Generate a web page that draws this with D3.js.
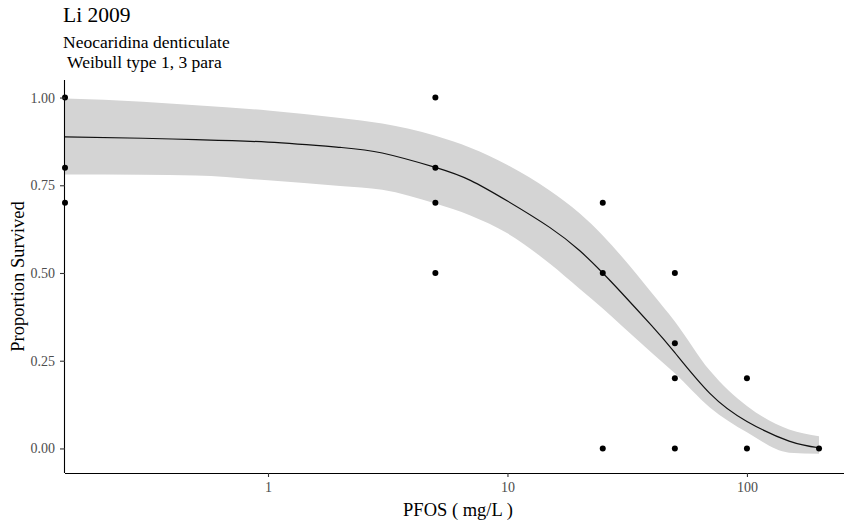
<!DOCTYPE html>
<html>
<head>
<meta charset="utf-8">
<script src="https://cdn.jsdelivr.net/npm/d3@7"></script>
<style>
  html, body { margin: 0; padding: 0; background: #fff; }
  svg { display: block; }
  text { font-family: "Liberation Serif", "Times New Roman", serif; }
</style>
</head>
<body>
<svg id="chart" width="844" height="527"></svg>
<script>
// ---- data ----
const titleText = "Li 2009";
const subtitleLines = ["Neocaridina denticulate", " Weibull type 1, 3 para"];
const xLabel = "PFOS ( mg/L )";
const yLabel = "Proportion Survived";

// observations (concentration 0 = control, drawn at the left panel edge)
const pointConc = [0, 0, 0, 5, 5, 5, 5, 25, 25, 25, 50, 50, 50, 50, 100, 100, 200];
const pointSurv = [1.0, 0.8, 0.7, 1.0, 0.8, 0.7, 0.5, 0.7, 0.5, 0.0, 0.5, 0.3, 0.2, 0.0, 0.2, 0.0, 0.0];

// fitted curve and confidence band
const curveConc = [0.142, 0.3, 0.5, 1, 2, 3, 5, 7, 10, 15, 20, 25, 30, 40, 50, 70, 100, 150, 200];
const curveFit  = [0.888, 0.884, 0.880, 0.873, 0.858, 0.842, 0.801, 0.764, 0.705, 0.630, 0.564, 0.500, 0.443, 0.350, 0.273, 0.157, 0.077, 0.021, 0.002];
const bandUpper = [0.997, 0.988, 0.978, 0.963, 0.942, 0.926, 0.891, 0.857, 0.808, 0.735, 0.670, 0.607, 0.547, 0.444, 0.362, 0.222, 0.121, 0.054, 0.035];
const bandLower = [0.781, 0.780, 0.778, 0.764, 0.748, 0.737, 0.698, 0.664, 0.613, 0.527, 0.455, 0.399, 0.350, 0.273, 0.214, 0.117, 0.046, -0.012, -0.015];

const xTicks = [1, 10, 100];
const xTickLabels = ["1", "10", "100"];
const yTicks = [0, 0.25, 0.5, 0.75, 1.0];
const yTickLabels = ["0.00", "0.25", "0.50", "0.75", "1.00"];

const xDomain = [0.142, 272];
const yDomain = [-0.07, 1.05];

// ---- layout ----
const panel = { left: 65, right: 851, top: 80, bottom: 473 };
const svg = d3.select("#chart");

const x = d3.scaleLog().domain(xDomain).range([panel.left, panel.right]);
const y = d3.scaleLinear().domain(yDomain).range([panel.bottom, panel.top]);
const xPos = c => (c <= 0 ? panel.left : x(c));

// band
const bandData = curveConc.map((c, i) => ({ c, lo: bandLower[i], hi: bandUpper[i] }));
svg.append("path")
  .datum(bandData)
  .attr("fill", "#d4d4d4")
  .attr("stroke", "none")
  .attr("d", d3.area()
    .x(d => x(d.c))
    .y0(d => y(d.lo))
    .y1(d => y(d.hi))
    .curve(d3.curveMonotoneX));

// fitted curve
const fitData = curveConc.map((c, i) => ({ c, v: curveFit[i] }));
svg.append("path")
  .datum(fitData)
  .attr("fill", "none")
  .attr("stroke", "#111")
  .attr("stroke-width", 1.2)
  .attr("d", d3.line()
    .x(d => x(d.c))
    .y(d => y(d.v))
    .curve(d3.curveNatural));

// points
const pts = pointConc.map((c, i) => ({ c, v: pointSurv[i] }));
svg.append("g").selectAll("circle")
  .data(pts)
  .enter().append("circle")
  .attr("cx", d => xPos(d.c))
  .attr("cy", d => y(d.v))
  .attr("r", 3)
  .attr("fill", "#000");

// axes
const xAxis = d3.axisBottom(x)
  .tickValues(xTicks)
  .tickFormat((d, i) => xTickLabels[i])
  .tickSizeInner(4).tickSizeOuter(0).tickPadding(5);
const gx = svg.append("g")
  .attr("transform", `translate(0,${panel.bottom})`)
  .call(xAxis);

const yAxis = d3.axisLeft(y)
  .tickValues(yTicks)
  .tickFormat((d, i) => yTickLabels[i])
  .tickSizeInner(5).tickSizeOuter(0).tickPadding(5);
const gy = svg.append("g")
  .attr("transform", `translate(${panel.left},0)`)
  .call(yAxis);

[gx, gy].forEach(g => {
  g.select(".domain").attr("stroke", "#000").attr("stroke-width", 1.1);
  g.selectAll(".tick line").attr("stroke", "#333").attr("stroke-width", 1.1);
  g.selectAll(".tick text")
    .attr("fill", "#4d4d4d")
    .style("font-family", '"Liberation Serif", "Times New Roman", serif')
    .style("font-size", "14px");
});
gx.select(".domain").attr("d", `M${panel.left},0.5H${panel.right}`);
gy.select(".domain").attr("d", `M-0.5,${panel.bottom}V${panel.top}`);

// axis titles
svg.append("text")
  .attr("x", (panel.left + panel.right) / 2)
  .attr("y", 516)
  .attr("text-anchor", "middle")
  .attr("fill", "#000")
  .style("font-size", "18.5px")
  .text(xLabel);

svg.append("text")
  .attr("transform", `translate(24,${(panel.top + panel.bottom) / 2}) rotate(-90)`)
  .attr("text-anchor", "middle")
  .attr("fill", "#000")
  .style("font-size", "18.5px")
  .text(yLabel);

// title & subtitle
svg.append("text")
  .attr("x", 63)
  .attr("y", 22)
  .attr("fill", "#000")
  .style("font-size", "21.5px")
  .text(titleText);

subtitleLines.forEach((line, i) => {
  svg.append("text")
    .attr("x", 63)
    .attr("y", 48.3 + i * 20)
    .attr("fill", "#000")
    .attr("xml:space", "preserve")
    .style("white-space", "pre")
    .style("font-size", "17.5px")
    .text(line);
});
</script>
</body>
</html>
